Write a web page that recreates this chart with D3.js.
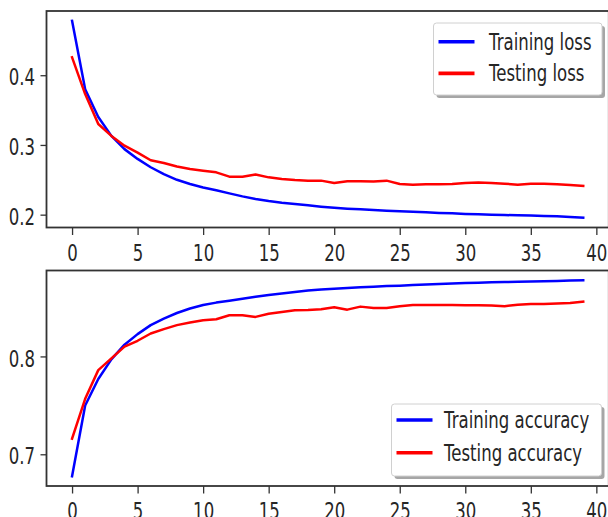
<!DOCTYPE html>
<html>
<head>
<meta charset="utf-8">
<script src="https://cdn.jsdelivr.net/npm/d3@7"></script>
<style>
  html, body { margin: 0; padding: 0; background: #fff; }
  svg { display: block; }
  text { font-family: "DejaVu Sans", sans-serif; fill: #262626; }
</style>
</head>
<body>
<svg id="chart" width="608" height="517"></svg>
<script>
// Values, one per epoch (0..39).
var epochs = d3.range(40);

var trainLoss = [0.478, 0.380, 0.340, 0.313, 0.294, 0.280, 0.268, 0.258, 0.250, 0.244,
                 0.239, 0.2350, 0.2305, 0.2262, 0.2225, 0.2196, 0.2172, 0.2153, 0.2134, 0.2115,
                 0.2100, 0.2086, 0.2076, 0.2067, 0.2057, 0.2048, 0.2041, 0.2033, 0.2025, 0.2019,
                 0.2010, 0.2005, 0.2000, 0.1995, 0.1990, 0.1987, 0.1981, 0.1976, 0.1967, 0.1957];

var testLoss = [0.4257, 0.373, 0.330, 0.313, 0.299, 0.289, 0.278, 0.274, 0.269, 0.2655,
                0.263, 0.2607, 0.2545, 0.2545, 0.2575, 0.2535, 0.2512, 0.2497, 0.2488, 0.2488,
                0.2455, 0.248, 0.248, 0.2475, 0.2488, 0.244, 0.243, 0.2435, 0.2435, 0.244,
                0.2455, 0.246, 0.2455, 0.2445, 0.243, 0.2445, 0.2445, 0.2435, 0.2426, 0.2412];

var trainAcc = [0.6776, 0.7498, 0.777, 0.797, 0.812, 0.8228, 0.832, 0.8387, 0.8444, 0.8490,
                0.8525, 0.8550, 0.8570, 0.8590, 0.8610, 0.8628, 0.8644, 0.8659, 0.8673, 0.8684,
                0.8692, 0.8699, 0.8706, 0.8712, 0.8719, 0.8723, 0.8729, 0.8735, 0.8741, 0.8746,
                0.875, 0.8753, 0.8757, 0.876, 0.8763, 0.8766, 0.8768, 0.8771, 0.8776, 0.8778];

var testAcc = [0.716, 0.7567, 0.786, 0.798, 0.810, 0.816, 0.8234, 0.8279, 0.832, 0.8346,
               0.837, 0.838, 0.8421, 0.8421, 0.8404, 0.8437, 0.8455, 0.8472, 0.8475, 0.8482,
               0.8503, 0.8478, 0.8509, 0.8495, 0.8495, 0.8513, 0.8526, 0.8526, 0.8526, 0.8526,
               0.8523, 0.8523, 0.852, 0.8513, 0.8529, 0.8536, 0.8536, 0.854, 0.8546, 0.856];

var xTicks = [0, 5, 10, 15, 20, 25, 30, 35, 40];
var lossTicks = [0.2, 0.3, 0.4];
var accTicks = [0.7, 0.8];

var lossLabels = ["Training loss", "Testing loss"];
var accLabels = ["Training accuracy", "Testing accuracy"];
var colors = ["#0000ff", "#ff0000"];

var svg = d3.select("#chart");
svg.append("rect").attr("width", 608).attr("height", 517).attr("fill", "#fff");

// Text in the picture is squeezed sideways, so draw it tall and narrow.
var FONT = 23;
var SX = 0.72;

// Pad a domain the way matplotlib does (5% each side).
function padded(arrays) {
    var lo = d3.min(arrays, a => d3.min(a));
    var hi = d3.max(arrays, a => d3.max(a));
    var m = (hi - lo) * 0.05;
    return [lo - m, hi + m];
}

function drawPanel(opts) {
    var left = 46.5, right = 608.8;
    var g = svg.append("g");

    var x = d3.scaleLinear().domain([-1.95, 40.95]).range([left, right]);
    var y = d3.scaleLinear().domain(padded(opts.series)).range([opts.bottom, opts.top]);

    // lines
    var line = d3.line().x((d, i) => x(epochs[i])).y(d => y(d));
    opts.series.forEach(function(s, k) {
        g.append("path")
            .attr("d", line(s))
            .attr("fill", "none")
            .attr("stroke", colors[k])
            .attr("stroke-width", 2.5)
            .attr("stroke-linejoin", "round")
            .attr("stroke-linecap", "square");
    });

    // frame
    g.append("rect")
        .attr("x", left).attr("y", opts.top)
        .attr("width", right - left).attr("height", opts.bottom - opts.top)
        .attr("fill", "none").attr("stroke", "#333").attr("stroke-width", 1.8);

    // x axis
    var xa = g.append("g").attr("transform", "translate(0," + opts.bottom + ")")
        .call(d3.axisBottom(x).tickValues(xTicks).tickSize(7.5).tickFormat(d3.format("d")));
    xa.select(".domain").remove();
    xa.selectAll("line").attr("stroke", "#333").attr("stroke-width", 1.3);
    xa.selectAll("text")
        .attr("font-size", FONT)
        .attr("y", 33.5).attr("dy", 0)
        .attr("transform", "scale(" + SX + ",1)")
        .attr("fill", "#262626");

    // y axis
    var ya = g.append("g").attr("transform", "translate(" + left + ",0)")
        .call(d3.axisLeft(y).tickValues(opts.yTicks).tickSize(6).tickFormat(d3.format(".1f")));
    ya.select(".domain").remove();
    ya.selectAll("line").attr("stroke", "#333").attr("stroke-width", 1.3);
    ya.selectAll("text")
        .attr("font-size", FONT)
        .attr("x", -11.5 / SX).attr("dy", "0.42em")
        .attr("transform", "scale(" + SX + ",1)")
        .attr("fill", "#262626");

    // legend
    var L = opts.legend;
    var lg = g.append("g");
    lg.append("rect")
        .attr("x", L.x + 3).attr("y", L.y + 3)
        .attr("width", L.w).attr("height", L.h).attr("rx", 3)
        .attr("fill", "#000").attr("opacity", 0.35);
    lg.append("rect")
        .attr("x", L.x).attr("y", L.y)
        .attr("width", L.w).attr("height", L.h).attr("rx", 3)
        .attr("fill", "#fff").attr("stroke", "#d0d0d0").attr("stroke-width", 1);
    opts.labels.forEach(function(lab, k) {
        var cy = L.row0 + k * L.rowGap;
        lg.append("line")
            .attr("x1", L.x + 5).attr("x2", L.x + 41)
            .attr("y1", cy).attr("y2", cy)
            .attr("stroke", colors[k]).attr("stroke-width", 3.6);
        lg.append("text")
            .attr("transform", "translate(" + L.textX + "," + cy + ") scale(" + SX + ",1)")
            .attr("dy", "0.35em")
            .attr("font-size", FONT)
            .text(lab);
    });
}

drawPanel({
    top: 11, bottom: 227.5,
    series: [trainLoss, testLoss],
    yTicks: lossTicks,
    labels: lossLabels,
    legend: { x: 433.5, y: 23, w: 168.5, h: 72, row0: 41.7, rowGap: 31.7, textX: 489 }
});

drawPanel({
    top: 270.5, bottom: 486,
    series: [trainAcc, testAcc],
    yTicks: accTicks,
    labels: accLabels,
    legend: { x: 391.5, y: 404, w: 210, h: 72, row0: 420, rowGap: 32.7, textX: 444 }
});
</script>
</body>
</html>
